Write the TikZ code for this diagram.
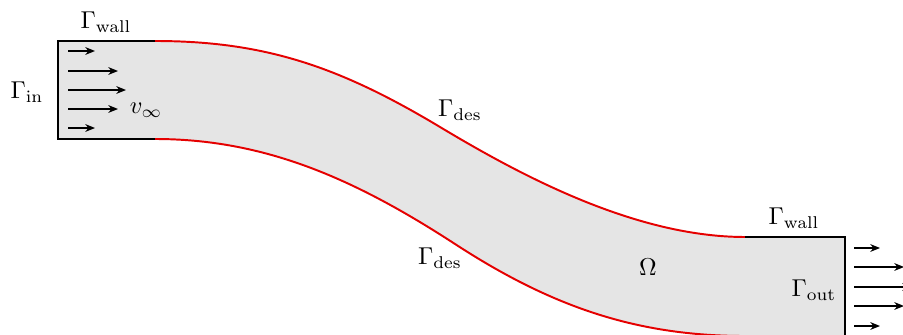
\documentclass[tikz,border=0pt]{standalone}
\usetikzlibrary{arrows.meta}
\begin{document}
\begin{tikzpicture}[x=0.41pt,y=-0.41pt,
  wall/.style={line width=0.9pt,black},
  des/.style={line width=0.8pt,draw=red!90!black},
  flow/.style={line width=0.55pt,-{Stealth[length=4pt,width=3.2pt]}},
  lbl/.style={inner sep=0pt}]
\useasboundingbox (0,0) rectangle (903,334);
% domain
\path[des,fill=black!10] (58,41) -- (155,41)
  .. controls (265,41) and (340,67) .. (440,127)
  .. controls (520,175) and (635,237) .. (745,237)
  -- (845,237) -- (845,336) -- (745,336)
  .. controls (635,336) and (550,305.75) .. (455,244)
  .. controls (355,179) and (265,139) .. (155,139)
  -- (58,139) -- cycle;
% walls
\coordinate (i1) at (155,41);
\coordinate (i2) at (58,41);
\coordinate (i3) at (58,139);
\coordinate (i4) at (155,139);
\coordinate (o1) at (745,237);
\coordinate (o2) at (845,237);
\coordinate (o3) at (845,345);
\coordinate (o4) at (745,337);
\coordinate (o5) at (845,337);
\draw[wall] (i1) -- (i2) -- (i3) -- (i4);
\draw[wall] (o1) -- (o2) -- (o3);
\draw[wall] (o4) -- (o5);
% inflow arrows
\foreach \y/\l [count=\i] in {51/27,71/50,90/58,109/50,128/27}{
  \coordinate (a\i) at (68,\y);
  \coordinate (b\i) at (68+\l,\y);
  \draw[flow] (a\i) -- (b\i);
}
% outflow arrows
\foreach \y/\l [count=\i] in {248/26,267/50,287/58,306/50,326/26}{
  \coordinate (c\i) at (854,\y);
  \coordinate (d\i) at (854+\l,\y);
  \draw[flow] (c\i) -- (d\i);
}
% labels
\node[lbl] (gwallA) at (106,22) {$\Gamma_{\mathrm{wall}}$};
\node[lbl] (gin) at (27,92) {$\Gamma_{\mathrm{in}}$};
\node[lbl] (vinf) at (146,110) {$v_\infty$};
\node[lbl] (gdesA) at (460,110) {$\Gamma_{\mathrm{des}}$};
\node[lbl] (gdesB) at (440,258) {$\Gamma_{\mathrm{des}}$};
\node[lbl] (omega) at (648,267) {$\Omega$};
\node[lbl] (gwallB) at (794,218) {$\Gamma_{\mathrm{wall}}$};
\node[lbl] (gout) at (814,290) {$\Gamma_{\mathrm{out}}$};
\end{tikzpicture}
\end{document}
